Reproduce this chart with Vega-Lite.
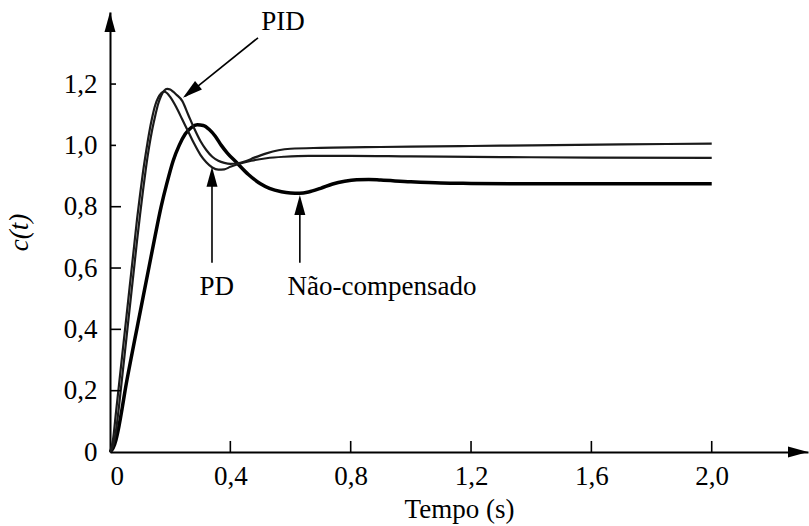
{
  "$schema": "https://vega.github.io/schema/vega-lite/v6.json",
  "width": 698,
  "height": 440,
  "autosize": {"type": "none"},
  "padding": {"left": 110, "top": 12, "right": 1, "bottom": 74},
  "background": "white",
  "config": {
    "view": {"stroke": null},
    "font": "Liberation Serif",
    "axis": {
      "domainColor": "black",
      "domainWidth": 2,
      "ticks": false,
      "tickSize": 0,
      "grid": false,
      "labelFont": "Liberation Serif",
      "labelFontSize": 27,
      "labelColor": "black",
      "titleFont": "Liberation Serif",
      "titleFontSize": 27,
      "titleFontWeight": "normal",
      "titleColor": "black",
      "labelExpr": "datum.value == 0 ? '0' : replace(format(datum.value, '.1f'), '.', ',')"
    }
  },
  "datasets": {
    "curves": [
      {"t": 0, "c": 0, "s": "NC"}, {"t": 0.01, "c": 0.012, "s": "NC"}, {"t": 0.02, "c": 0.04, "s": "NC"}, {"t": 0.03, "c": 0.085, "s": "NC"}, {"t": 0.04, "c": 0.14, "s": "NC"}, {"t": 0.05, "c": 0.2, "s": "NC"}, {"t": 0.07, "c": 0.305, "s": "NC"}, {"t": 0.09, "c": 0.405, "s": "NC"}, {"t": 0.11, "c": 0.505, "s": "NC"}, {"t": 0.13, "c": 0.605, "s": "NC"}, {"t": 0.15, "c": 0.705, "s": "NC"}, {"t": 0.17, "c": 0.8, "s": "NC"}, {"t": 0.19, "c": 0.88, "s": "NC"}, {"t": 0.21, "c": 0.95, "s": "NC"}, {"t": 0.23, "c": 1.0, "s": "NC"}, {"t": 0.25, "c": 1.037, "s": "NC"}, {"t": 0.27, "c": 1.058, "s": "NC"}, {"t": 0.29, "c": 1.067, "s": "NC"}, {"t": 0.31, "c": 1.065, "s": "NC"}, {"t": 0.33, "c": 1.052, "s": "NC"}, {"t": 0.35, "c": 1.03, "s": "NC"}, {"t": 0.37, "c": 1.0, "s": "NC"}, {"t": 0.39, "c": 0.975, "s": "NC"}, {"t": 0.42, "c": 0.945, "s": "NC"}, {"t": 0.46, "c": 0.905, "s": "NC"}, {"t": 0.5, "c": 0.875, "s": "NC"}, {"t": 0.53, "c": 0.86, "s": "NC"}, {"t": 0.57, "c": 0.849, "s": "NC"}, {"t": 0.6, "c": 0.845, "s": "NC"}, {"t": 0.63, "c": 0.844, "s": "NC"}, {"t": 0.66, "c": 0.848, "s": "NC"}, {"t": 0.7, "c": 0.86, "s": "NC"}, {"t": 0.74, "c": 0.874, "s": "NC"}, {"t": 0.78, "c": 0.883, "s": "NC"}, {"t": 0.82, "c": 0.888, "s": "NC"}, {"t": 0.86, "c": 0.889, "s": "NC"}, {"t": 0.9, "c": 0.887, "s": "NC"}, {"t": 1.0, "c": 0.881, "s": "NC"}, {"t": 1.1, "c": 0.877, "s": "NC"}, {"t": 1.2, "c": 0.876, "s": "NC"}, {"t": 1.4, "c": 0.875, "s": "NC"}, {"t": 1.7, "c": 0.875, "s": "NC"}, {"t": 2.0, "c": 0.875, "s": "NC"},
      {"t": 0, "c": 0, "s": "PD"}, {"t": 0.01, "c": 0.04, "s": "PD"}, {"t": 0.02, "c": 0.13, "s": "PD"}, {"t": 0.03, "c": 0.22, "s": "PD"}, {"t": 0.04, "c": 0.31, "s": "PD"}, {"t": 0.05, "c": 0.4, "s": "PD"}, {"t": 0.06, "c": 0.49, "s": "PD"}, {"t": 0.07, "c": 0.58, "s": "PD"}, {"t": 0.08, "c": 0.67, "s": "PD"}, {"t": 0.09, "c": 0.76, "s": "PD"}, {"t": 0.1, "c": 0.84, "s": "PD"}, {"t": 0.11, "c": 0.915, "s": "PD"}, {"t": 0.12, "c": 0.98, "s": "PD"}, {"t": 0.13, "c": 1.04, "s": "PD"}, {"t": 0.14, "c": 1.09, "s": "PD"}, {"t": 0.15, "c": 1.13, "s": "PD"}, {"t": 0.16, "c": 1.155, "s": "PD"}, {"t": 0.17, "c": 1.17, "s": "PD"}, {"t": 0.18, "c": 1.175, "s": "PD"}, {"t": 0.19, "c": 1.17, "s": "PD"}, {"t": 0.2, "c": 1.158, "s": "PD"}, {"t": 0.22, "c": 1.125, "s": "PD"}, {"t": 0.24, "c": 1.085, "s": "PD"}, {"t": 0.26, "c": 1.045, "s": "PD"}, {"t": 0.28, "c": 1.005, "s": "PD"}, {"t": 0.3, "c": 0.97, "s": "PD"}, {"t": 0.32, "c": 0.945, "s": "PD"}, {"t": 0.34, "c": 0.928, "s": "PD"}, {"t": 0.36, "c": 0.921, "s": "PD"}, {"t": 0.38, "c": 0.922, "s": "PD"}, {"t": 0.4, "c": 0.93, "s": "PD"}, {"t": 0.43, "c": 0.94, "s": "PD"}, {"t": 0.47, "c": 0.95, "s": "PD"}, {"t": 0.52, "c": 0.958, "s": "PD"}, {"t": 0.58, "c": 0.963, "s": "PD"}, {"t": 0.66, "c": 0.966, "s": "PD"}, {"t": 0.8, "c": 0.966, "s": "PD"}, {"t": 1.0, "c": 0.964, "s": "PD"}, {"t": 1.3, "c": 0.962, "s": "PD"}, {"t": 1.6, "c": 0.96, "s": "PD"}, {"t": 2.0, "c": 0.959, "s": "PD"},
      {"t": 0, "c": 0, "s": "PID"}, {"t": 0.01, "c": 0.02, "s": "PID"}, {"t": 0.02, "c": 0.07, "s": "PID"}, {"t": 0.03, "c": 0.15, "s": "PID"}, {"t": 0.04, "c": 0.24, "s": "PID"}, {"t": 0.05, "c": 0.33, "s": "PID"}, {"t": 0.06, "c": 0.42, "s": "PID"}, {"t": 0.07, "c": 0.51, "s": "PID"}, {"t": 0.08, "c": 0.6, "s": "PID"}, {"t": 0.09, "c": 0.69, "s": "PID"}, {"t": 0.1, "c": 0.775, "s": "PID"}, {"t": 0.11, "c": 0.855, "s": "PID"}, {"t": 0.12, "c": 0.93, "s": "PID"}, {"t": 0.13, "c": 0.995, "s": "PID"}, {"t": 0.14, "c": 1.05, "s": "PID"}, {"t": 0.15, "c": 1.095, "s": "PID"}, {"t": 0.16, "c": 1.135, "s": "PID"}, {"t": 0.17, "c": 1.162, "s": "PID"}, {"t": 0.18, "c": 1.178, "s": "PID"}, {"t": 0.19, "c": 1.184, "s": "PID"}, {"t": 0.2, "c": 1.182, "s": "PID"}, {"t": 0.21, "c": 1.175, "s": "PID"}, {"t": 0.22, "c": 1.166, "s": "PID"}, {"t": 0.24, "c": 1.145, "s": "PID"}, {"t": 0.26, "c": 1.1, "s": "PID"}, {"t": 0.28, "c": 1.055, "s": "PID"}, {"t": 0.3, "c": 1.015, "s": "PID"}, {"t": 0.32, "c": 0.985, "s": "PID"}, {"t": 0.34, "c": 0.963, "s": "PID"}, {"t": 0.36, "c": 0.95, "s": "PID"}, {"t": 0.38, "c": 0.943, "s": "PID"}, {"t": 0.4, "c": 0.94, "s": "PID"}, {"t": 0.42, "c": 0.941, "s": "PID"}, {"t": 0.45, "c": 0.948, "s": "PID"}, {"t": 0.48, "c": 0.96, "s": "PID"}, {"t": 0.52, "c": 0.974, "s": "PID"}, {"t": 0.56, "c": 0.984, "s": "PID"}, {"t": 0.6, "c": 0.989, "s": "PID"}, {"t": 0.7, "c": 0.992, "s": "PID"}, {"t": 0.85, "c": 0.994, "s": "PID"}, {"t": 1.0, "c": 0.996, "s": "PID"}, {"t": 1.2, "c": 0.998, "s": "PID"}, {"t": 1.4, "c": 1.0, "s": "PID"}, {"t": 1.7, "c": 1.003, "s": "PID"}, {"t": 2.0, "c": 1.006, "s": "PID"}
    ],
    "arrows": [
      {"t": 0.492, "c": 1.351, "t2": 0.25, "c2": 1.16},
      {"t": 0.339, "c": 0.617, "t2": 0.339, "c2": 0.9},
      {"t": 0.631, "c": 0.617, "t2": 0.631, "c2": 0.82}
    ],
    "ticks": [
      {"t": 0.4, "c": 0, "t2": 0.4, "c2": 0.036},
      {"t": 0.8, "c": 0, "t2": 0.8, "c2": 0.036},
      {"t": 1.2, "c": 0, "t2": 1.2, "c2": 0.036},
      {"t": 1.6, "c": 0, "t2": 1.6, "c2": 0.036},
      {"t": 2.0, "c": 0, "t2": 2.0, "c2": 0.036},
      {"t": 0, "c": 0.2, "t2": 0.0365, "c2": 0.2},
      {"t": 0, "c": 0.4, "t2": 0.0365, "c2": 0.4},
      {"t": 0, "c": 0.6, "t2": 0.0365, "c2": 0.6},
      {"t": 0, "c": 0.8, "t2": 0.0365, "c2": 0.8},
      {"t": 0, "c": 1.0, "t2": 0.02, "c2": 1.0},
      {"t": 0, "c": 1.2, "t2": 0.02, "c2": 1.2}
    ],
    "heads": [
      {"t": 0.2425, "c": 1.155, "ang": 231},
      {"t": 0.339, "c": 0.93, "ang": 0},
      {"t": 0.631, "c": 0.838, "ang": 0},
      {"t": 2.32, "c": 0, "ang": 90},
      {"t": 0, "c": 1.435, "ang": 0}
    ],
    "labels": [
      {"t": 0.575, "c": 1.403, "label": "PID"},
      {"t": 0.355, "c": 0.538, "label": "PD"},
      {"t": 0.904, "c": 0.538, "label": "Não-compensado"}
    ]
  },
  "encoding": {
    "x": {
      "field": "t",
      "type": "quantitative",
      "scale": {"domain": [0, 2.32], "nice": false, "zero": false},
      "axis": {
        "title": "Tempo (s)",
        "values": [0, 0.4, 0.8, 1.2, 1.6, 2.0],
        "labelPadding": 11,
        "titlePadding": 7
      }
    },
    "y": {
      "field": "c",
      "type": "quantitative",
      "scale": {"domain": [0, 1.435], "nice": false, "zero": false},
      "axis": {
        "title": "c(t)",
        "titleFontStyle": "italic",
        "values": [0, 0.2, 0.4, 0.6, 0.8, 1.0, 1.2],
        "labelPadding": 13,
        "titlePadding": 30
      }
    }
  },
  "layer": [
    {
      "data": {"name": "curves"},
      "transform": [{"filter": "datum.s == 'NC'"}],
      "mark": {"type": "line", "interpolate": "monotone", "color": "black", "strokeWidth": 3.5}
    },
    {
      "data": {"name": "curves"},
      "transform": [{"filter": "datum.s != 'NC'"}],
      "mark": {"type": "line", "interpolate": "monotone", "color": "#1a1a1a", "strokeWidth": 2.2},
      "encoding": {"detail": {"field": "s", "type": "nominal"}}
    },
    {
      "data": {"name": "arrows"},
      "mark": {"type": "rule", "color": "black", "strokeWidth": 1.6},
      "encoding": {
        "x2": {"field": "t2"},
        "y2": {"field": "c2"}
      }
    },
    {
      "data": {"name": "ticks"},
      "mark": {"type": "rule", "color": "black", "strokeWidth": 1.6},
      "encoding": {
        "x2": {"field": "t2"},
        "y2": {"field": "c2"}
      }
    },
    {
      "data": {"name": "heads"},
      "mark": {"type": "point", "shape": "M0,0L0.55,2L-0.55,2Z", "filled": true, "color": "black", "opacity": 1, "size": 400, "strokeWidth": 0},
      "encoding": {
        "angle": {"field": "ang", "type": "quantitative", "scale": null}
      }
    },
    {
      "data": {"name": "labels"},
      "mark": {"type": "text", "font": "Liberation Serif", "fontSize": 27, "color": "black", "align": "center", "baseline": "middle"},
      "encoding": {
        "text": {"field": "label", "type": "nominal"}
      }
    }
  ]
}
